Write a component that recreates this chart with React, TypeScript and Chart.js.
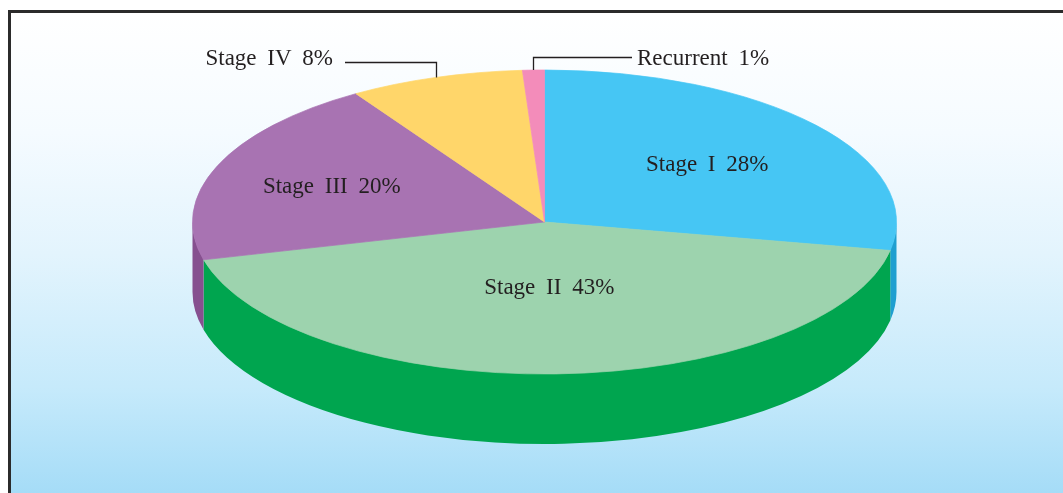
import React, { useEffect, useRef } from "react";
import { Chart, registerables } from "chart.js";

Chart.register(...registerables);

// ---- data ----
const CATEGORIES = ["Stage I", "Stage II", "Stage III", "Stage IV", "Recurrent"];
const VALUES = [28, 43, 20, 8, 1];

// ---- styles ----
const TOP_COLORS = ["#46c6f4", "#9dd3ae", "#a873b2", "#ffd66a", "#f38cba"];
const SIDE_COLORS = ["#1f9fd0", "#00a54f", "#86508f", "#e0b23f", "#d0679a"];

const CANVAS_W = 1052;
const CANVAS_H = 480;
const RADIUS = 352;
const TILT = 152 / 352;
const DEPTH = 70;
const FONT = '23px "Liberation Serif", "Times New Roman", serif';
const TEXT_COLOR = "#231f20";

type Placement =
  | { kind: "inside"; r: number }
  | { kind: "left" | "right"; textX: number; lineY: number; baseline: number; gap: number };

const PLACEMENT: Placement[] = [
  { kind: "inside", r: 0.6 },
  { kind: "inside", r: 0.43 },
  { kind: "inside", r: 0.65 },
  { kind: "left", textX: 322, lineY: 49, baseline: 52, gap: 12 },
  { kind: "right", textX: 626, lineY: 44, baseline: 52, gap: 5 },
];

const pie3d = {
  id: "pie3d",
  beforeDatasetsDraw(chart: any) {
    const ctx: CanvasRenderingContext2D = chart.ctx;
    const arcs = chart.getDatasetMeta(0).data;
    if (!arcs.length) return;
    const cx = arcs[0].x;
    const cy = arcs[0].y;
    const r = arcs[0].outerRadius;
    const ry = r * TILT;
    arcs.forEach((arc: any, i: number) => {
      const a = Math.max(arc.startAngle, 0);
      const b = Math.min(arc.endAngle, Math.PI);
      if (b <= a) return;
      ctx.beginPath();
      ctx.ellipse(cx, cy - 1, r, ry, 0, a, b, false);
      ctx.ellipse(cx, cy + DEPTH, r, ry, 0, b, a, true);
      ctx.closePath();
      ctx.fillStyle = SIDE_COLORS[i];
      ctx.fill();
    });
    ctx.save();
    ctx.translate(cx, cy);
    ctx.scale(1, TILT);
    ctx.translate(-cx, -cy);
  },
  afterDatasetsDraw(chart: any) {
    const ctx: CanvasRenderingContext2D = chart.ctx;
    const arcs = chart.getDatasetMeta(0).data;
    if (!arcs.length) return;
    ctx.restore();
    const cx = arcs[0].x;
    const cy = arcs[0].y;
    const r = arcs[0].outerRadius;
    const ry = r * TILT;
    ctx.save();
    ctx.font = FONT;
    ctx.fillStyle = TEXT_COLOR;
    ctx.strokeStyle = TEXT_COLOR;
    try {
      (ctx as any).wordSpacing = "5px";
    } catch (e) {}
    arcs.forEach((arc: any, i: number) => {
      const text = `${CATEGORIES[i]} ${VALUES[i]}%`;
      const mid = (arc.startAngle + arc.endAngle) / 2;
      const p = PLACEMENT[i];
      ctx.textBaseline = "alphabetic";
      if (p.kind === "inside") {
        const x = cx + Math.cos(mid) * r * p.r;
        const y = cy + Math.sin(mid) * ry * p.r;
        ctx.textAlign = "center";
        ctx.fillText(text, x, y + 7);
      } else {
        const ex = cx + Math.cos(mid) * r;
        const ey = cy + Math.sin(mid) * ry;
        const lineEndX = p.kind === "left" ? p.textX + p.gap : p.textX - p.gap;
        ctx.lineWidth = 1.3;
        ctx.beginPath();
        ctx.moveTo(Math.round(ex) + 0.5, ey);
        ctx.lineTo(Math.round(ex) + 0.5, p.lineY + 0.5);
        ctx.lineTo(lineEndX, p.lineY + 0.5);
        ctx.stroke();
        ctx.textAlign = p.kind === "left" ? "right" : "left";
        ctx.fillText(text, p.textX, p.baseline);
      }
    });
    ctx.restore();
  },
};

export default function App() {
  const ref = useRef<HTMLCanvasElement | null>(null);
  useEffect(() => {
    if (!ref.current) return;
    const chart = new Chart(ref.current, {
      type: "pie",
      data: {
        labels: CATEGORIES,
        datasets: [
          {
            data: VALUES,
            backgroundColor: TOP_COLORS,
            borderColor: TOP_COLORS,
            borderWidth: 1,
            radius: RADIUS,
            clip: false,
          } as any,
        ],
      },
      options: {
        animation: false,
        responsive: false,
        devicePixelRatio: 1,
        events: [],
        layout: { padding: { left: 15, right: 0, top: 0, bottom: 62 } },
        plugins: {
          legend: { display: false },
          tooltip: { enabled: false },
        },
      },
      plugins: [pie3d as any],
    });
    return () => chart.destroy();
  }, []);

  return (
    <div
      style={{
        position: "fixed",
        left: 8,
        top: 10,
        width: CANVAS_W,
        height: CANVAS_H,
        borderLeft: "3px solid #2b2b2b",
        borderTop: "3px solid #2b2b2b",
        background:
          "linear-gradient(to bottom, #ffffff 0%, #f5fbff 25%, #e3f4fd 50%, #c6eafb 78%, #a5dcf7 100%)",
        overflow: "hidden",
      }}
    >
      <canvas ref={ref} width={CANVAS_W} height={CANVAS_H} style={{ display: "block" }} />
    </div>
  );
}
